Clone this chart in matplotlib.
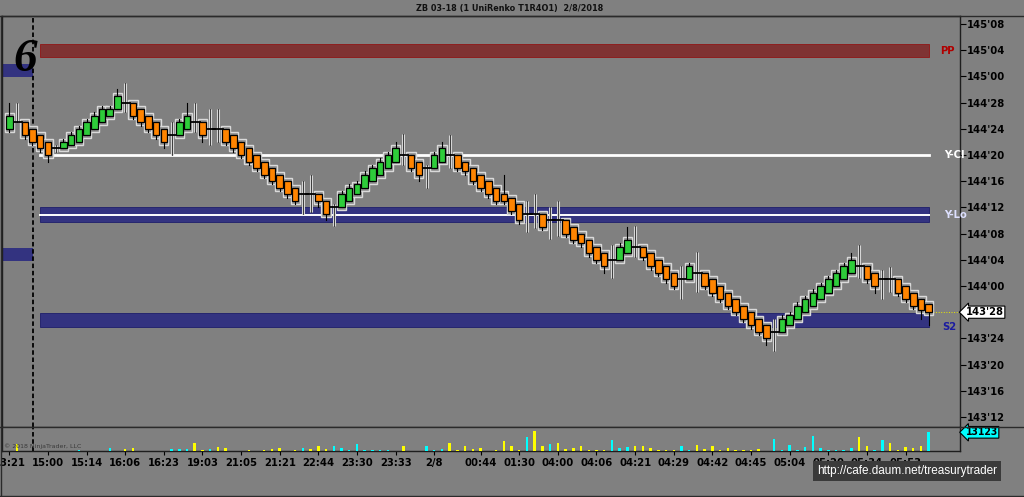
import matplotlib
matplotlib.use('Agg')
import matplotlib.pyplot as plt
import matplotlib.transforms as mtrans
from matplotlib.patches import Rectangle
from matplotlib.lines import Line2D
from matplotlib import font_manager

# ZB 03-18, UniRenko T1R4O1 -- prices are in 32nds (144'20 = 144*32 + 20)
opens = [4632, 4633, 4633, 4632, 4631, 4630, 4629, 4629, 4629.5, 4630,
         4631, 4632, 4633, 4634, 4635, 4636, 4636, 4635, 4634, 4633,
         4632, 4631, 4631, 4632, 4633, 4633, 4632, 4632, 4632, 4631,
         4630, 4629, 4628, 4627, 4626, 4625, 4624, 4623, 4622, 4622,
         4622, 4621, 4620, 4620, 4621, 4622, 4623, 4624, 4625, 4626,
         4627, 4628, 4628, 4627, 4626, 4626, 4627, 4628, 4628, 4627,
         4626, 4625, 4624, 4623, 4622, 4621.5, 4620.5, 4619, 4619, 4619,
         4618, 4618, 4618, 4617, 4616, 4615, 4614, 4613, 4612, 4612,
         4613, 4614, 4614, 4613, 4612, 4611, 4610, 4609, 4609, 4610,
         4610, 4609, 4608, 4607, 4606, 4605, 4604, 4603, 4602, 4601,
         4601, 4602, 4603, 4604, 4605, 4606, 4607, 4608, 4609, 4610,
         4611, 4611, 4610, 4609, 4609, 4609, 4608, 4607, 4606, 4605.3]
closes = [4634, 4633, 4631, 4630, 4629, 4628, 4629, 4630, 4631, 4632,
          4633, 4634, 4635, 4635, 4637, 4636, 4634, 4633, 4632, 4631,
          4630, 4631, 4633, 4634, 4633, 4631, 4632, 4632, 4630, 4629,
          4628, 4627, 4626, 4625, 4624, 4623, 4622, 4621, 4622, 4622,
          4621, 4619, 4620, 4622, 4623, 4623.5, 4625, 4626, 4627, 4628,
          4629, 4628, 4626, 4625, 4626, 4628, 4629, 4628, 4626, 4625.5,
          4624, 4623, 4622, 4621, 4621, 4619.5, 4618, 4619, 4619, 4617,
          4618, 4618, 4616, 4615, 4614.5, 4613, 4612, 4611, 4612, 4614,
          4615, 4614, 4612.5, 4611, 4610, 4609, 4608, 4609, 4611, 4610,
          4608, 4607, 4606, 4605, 4604, 4603, 4602, 4601, 4600, 4601,
          4603, 4603.5, 4605, 4606, 4607, 4608, 4609, 4610, 4611, 4612,
          4611, 4609, 4608, 4609, 4609, 4607, 4606, 4605, 4604.3, 4604]
highs = [4636, 4636, 4633, 4632, 4631, 4630, 4629.5, 4630.5, 4631.5, 4632.5,
         4633.5, 4634.5, 4635.5, 4635.5, 4638, 4639, 4636, 4635, 4634, 4633,
         4632, 4633, 4633.5, 4636, 4636, 4633, 4635, 4635, 4632, 4631,
         4630, 4629, 4628, 4627, 4626, 4625, 4624, 4623, 4624, 4625,
         4622, 4621, 4620.5, 4622.5, 4623.5, 4624, 4625.5, 4626.5, 4627.5, 4628.5,
         4630, 4631.2, 4628, 4627, 4626.4, 4628.5, 4630, 4631, 4628, 4627,
         4626, 4625, 4624, 4623, 4625, 4621.5, 4620.5, 4621, 4622, 4619,
         4620, 4621, 4618, 4617, 4616, 4615, 4614, 4613, 4614.2, 4614.5,
         4617, 4617.2, 4614, 4613, 4612, 4611, 4610, 4611, 4611.5, 4613.2,
         4610, 4609, 4608, 4607, 4606, 4605, 4604, 4603, 4602, 4603,
         4603.5, 4604, 4605.5, 4606.5, 4607.5, 4608.5, 4609.5, 4610.5, 4611.5, 4613,
         4614.2, 4611, 4610, 4610.4, 4610.9, 4609, 4608, 4607, 4606, 4605.3]
lows = [4631.5, 4633, 4630.5, 4629.5, 4628.5, 4627, 4628.5, 4629, 4629.5, 4630,
        4631, 4632, 4633, 4634, 4635, 4634.5, 4633.5, 4632.5, 4631.5, 4630.5,
        4629, 4628, 4631, 4632, 4631.5, 4630, 4629.5, 4630, 4629.5, 4628.5,
        4627.5, 4626.5, 4625.5, 4624.5, 4623.5, 4622.5, 4621.5, 4620.5, 4619, 4619.3,
        4620, 4618, 4617.2, 4620, 4621, 4622, 4623, 4624, 4625, 4626,
        4627, 4626.4, 4625.5, 4624, 4623, 4626, 4627, 4626, 4625.5, 4625,
        4623.5, 4622.5, 4621.5, 4620.5, 4620.5, 4619, 4617.5, 4616.3, 4616.8, 4616.5,
        4615.2, 4615.7, 4615.5, 4614.5, 4614, 4612.5, 4611.5, 4610, 4609.2, 4612,
        4613, 4612.5, 4612, 4610.5, 4609.5, 4608.5, 4607.5, 4606, 4609, 4607.1,
        4607.5, 4606.5, 4605.5, 4604.5, 4603.5, 4602.5, 4601.5, 4600.5, 4599, 4598.1,
        4601, 4602, 4603, 4604, 4605, 4606, 4607, 4608, 4609, 4610,
        4609.2, 4608.5, 4607, 4606, 4607.1, 4606.5, 4605.5, 4604.5, 4603, 4602]

volumes = [350, 4700, 300, 300, 300, 300, 300, 300, 300, 500,
           300, 300, 300, 2300, 300, 1200, 2300, 300, 300, 300,
           300, 1400, 1400, 1400, 5800, 900, 1200, 3000, 1900, 300,
           300, 900, 300, 900, 1400, 2100, 300, 900, 1900, 1600,
           3700, 1600, 3300, 2300, 900, 4900, 900, 900, 900, 900,
           300, 3500, 300, 300, 3300, 900, 1600, 5800, 900, 3500,
           1400, 2100, 300, 900, 7000, 3500, 900, 9600, 14000, 3300,
           4900, 5800, 1400, 2300, 3300, 900, 900, 900, 7700, 1900,
           2800, 3500, 3500, 1900, 900, 900, 900, 3300, 900, 4200,
           1400, 3500, 900, 1900, 900, 900, 900, 1400, 300, 8200,
           900, 4200, 1000, 2800, 10500, 1900, 900, 900, 900, 2300,
           9600, 3500, 900, 7700, 5600, 900, 2800, 1900, 3500, 13123]
vol_sides = ['y', 'y', 'y', 'y', 'y', 'y', 'c', 'c', 'c', 'c',
             'c', 'c', 'c', 'c', 'c', 'y', 'y', 'y', 'y', 'y',
             'y', 'c', 'c', 'c', 'y', 'y', 'c', 'y', 'y', 'y',
             'y', 'y', 'y', 'y', 'y', 'y', 'y', 'y', 'c', 'y',
             'y', 'y', 'c', 'c', 'c', 'c', 'c', 'c', 'c', 'c',
             'c', 'y', 'y', 'y', 'c', 'c', 'c', 'y', 'y', 'y',
             'y', 'y', 'y', 'y', 'y', 'y', 'y', 'c', 'y', 'y',
             'c', 'y', 'y', 'y', 'y', 'y', 'y', 'y', 'c', 'c',
             'c', 'y', 'y', 'y', 'y', 'y', 'y', 'c', 'c', 'y',
             'y', 'y', 'y', 'y', 'y', 'y', 'y', 'y', 'y', 'c',
             'c', 'c', 'c', 'c', 'c', 'c', 'c', 'c', 'c', 'c',
             'y', 'y', 'c', 'c', 'y', 'y', 'y', 'y', 'y', 'c']

time_ticks = [0, 5, 10, 15, 20, 25, 30, 35, 40, 45, 50, 55,
              61, 66, 71, 76, 81, 86, 91, 96, 101, 106, 111, 116]
time_labels = ['13:21', '15:00', '15:14', '16:06', '16:23', '19:03', '21:05', '21:21',
               '22:44', '23:30', '23:33', '2/8', '00:44', '01:30', '04:00', '04:06',
               '04:21', '04:29', '04:42', '04:45', '05:04', '05:20', '05:34', '05:53']

# level bands (low, high) in 32nds
pp_band = (4642.9, 4644.9)
ycl_level = 4628
ylo_band = (4617.7, 4620.0)
ylo_level = 4618.9
s2_band = (4601.8, 4603.8)
left_marks = [(4639.9, 4641.9), (4611.8, 4613.8)]
last_price = 4604
last_volume = 13123

BG = '#808080'
NAVY = '#333380'


def fmt32(v):
    v = int(round(v))
    return f"{v // 32}'{v % 32:02d}"


names = {f.name for f in font_manager.fontManager.ttflist}
if 'Liberation Sans Narrow' in names:
    NARROW = dict(family='Liberation Sans Narrow', weight='bold')
else:
    NARROW = dict(family='DejaVu Sans', weight='bold', stretch='condensed')

fig = plt.figure(figsize=(10.24, 4.97), dpi=100)
fig.patch.set_facecolor(BG)

ax = fig.add_axes([2 / 1024, 1 - 427 / 497, 958 / 1024, 411 / 497])
vax = fig.add_axes([2 / 1024, 1 - 451 / 497, 958 / 1024, 24 / 497])
x_lim = (-0.945, 123.05)

for a in (ax, vax):
    a.set_facecolor(BG)
    a.set_xlim(*x_lim)
    for s in a.spines.values():
        s.set_color('#1e1e1e')
        s.set_linewidth(1)

ax.set_ylim(4586.47, 4649.22)
ax.set_xticks([])
ax.yaxis.tick_right()
pticks = list(range(4588, 4649, 4))
ax.set_yticks(pticks)
ax.set_yticklabels([fmt32(p) if p != last_price else '' for p in pticks], fontsize=8, **NARROW)
ax.tick_params(axis='y', length=4, width=0.8, color='black', pad=1)

# level bands
band_x0, band_x1 = 3.97, 119.0
ax.add_patch(Rectangle((band_x0, pp_band[0]), band_x1 - band_x0, pp_band[1] - pp_band[0],
                       fc='#7f3333', ec='#8e1f1f', lw=0.7, zorder=1))
ax.add_patch(Rectangle((band_x0, ylo_band[0]), band_x1 - band_x0, ylo_band[1] - ylo_band[0],
                       fc=NAVY, ec='#26266e', lw=0.7, zorder=1))
ax.add_patch(Rectangle((band_x0, s2_band[0]), band_x1 - band_x0, s2_band[1] - s2_band[0],
                       fc=NAVY, ec='#26266e', lw=0.7, zorder=1))
ax.plot([band_x0, band_x1], [ycl_level, ycl_level], color='white', lw=2, zorder=2)
ax.plot([band_x0, band_x1], [ylo_level, ylo_level], color='white', lw=1.4, zorder=2)
for lo, hi in left_marks:
    ax.add_patch(Rectangle((x_lim[0], lo), 3.07 - x_lim[0], hi - lo, fc=NAVY, ec='none', zorder=1))

ax.axvline(3.07, color='black', lw=1.3, ls=(0, (2.5, 1.5)), zorder=2)
vax.axvline(3.07, color='black', lw=1.3, ls=(0, (2.5, 1.5)), zorder=2)

ax.text(band_x1 + 1.5, sum(pp_band) / 2, 'PP', color='#b00000', fontsize=8, va='center', **NARROW)
ax.text(band_x1 + 2.0, ycl_level, 'Y-Cl', color='white', fontsize=8, va='center', **NARROW)
ax.text(band_x1 + 2.0, ylo_level, 'Y-Lo', color='#dde0ff', fontsize=8, va='center', **NARROW)
ax.text(band_x1 + 1.7, sum(s2_band) / 2 - 1, 'S2', color='#1c1ca0', fontsize=8, va='center', **NARROW)

# renko bricks
for i, (o, c, h, l) in enumerate(zip(opens, closes, highs, lows)):
    top, bot = max(o, c), min(o, c)
    if o == c:
        ax.plot([i, i], [l, h], color='#d6d6d6', lw=2.2, zorder=3, solid_capstyle='butt')
        ax.plot([i, i], [l, h], color='#222222', lw=0.6, zorder=3.1)
        ax.plot([i - 0.62, i + 0.62], [o, o], color='black', lw=1.3, zorder=4)
    else:
        ax.add_patch(Rectangle((i - 0.6, bot - 0.45), 1.2, top - bot + 0.9,
                               fc='#8d8d8d', ec='#dadada', lw=1, zorder=3))
        ax.plot([i, i], [l, h], color='black', lw=0.8, zorder=3.5)
        col = '#2ecc3a' if c > o else '#ff8400'
        ax.add_patch(Rectangle((i - 0.42, bot), 0.84, top - bot, fc=col, ec='black', lw=0.9, zorder=5))

n = len(closes)
ax.plot([n - 0.5, x_lim[1]], [last_price, last_price], color='#e8e800', lw=0.7, ls=':', zorder=2)

ytrans = mtrans.blended_transform_factory(ax.transAxes, ax.transData)
ax.text(1.006, last_price, fmt32(last_price), transform=ytrans, fontsize=8, va='center', ha='left',
        clip_on=False, zorder=10, **NARROW,
        bbox=dict(boxstyle='larrow,pad=0.1', fc='white', ec='black', lw=0.8))

# big "6"
fig.text(25 / 1024, 1 - 60 / 497, '6', fontsize=34, family='Liberation Serif', style='italic',
         weight='bold', color='black', ha='center', va='center')

# volume panel
vax.set_ylim(0, 16850)
vax.set_yticks([])
vcolors = ['#ffff00' if s == 'y' else '#00ffff' for s in vol_sides]
vax.bar(range(n), volumes, width=0.32, color=vcolors, zorder=3)
vax.set_xticks(time_ticks)
vax.set_xticklabels(time_labels, fontsize=8, **NARROW)
vax.tick_params(axis='x', length=3, width=0.8, color='black', pad=2)
vax.spines['top'].set_visible(False)
vtrans = mtrans.blended_transform_factory(vax.transAxes, vax.transData)
vax.text(1.006, last_volume, str(last_volume), transform=vtrans, fontsize=7.5, va='center', ha='left',
         clip_on=False, zorder=10, **NARROW,
         bbox=dict(boxstyle='larrow,pad=0.08', fc='#00ffff', ec='black', lw=0.8))
vax.text(0.002, 0.1, '\u00a9 2018 NinjaTrader, LLC', transform=vax.transAxes, fontsize=4.5,
         color='#3a3a3a', va='bottom', ha='left')

# frame lines and title
for y in (16, 427, 495.5):
    fig.add_artist(Line2D([0, 1], [1 - y / 497, 1 - y / 497], color='#2a2a2a', lw=1))
fig.add_artist(Line2D([0.5 / 1024, 0.5 / 1024], [1 - 495.5 / 497, 1 - 16 / 497], color='#2a2a2a', lw=1))
fig.text(510 / 1024, 1 - 8 / 497, 'ZB 03-18 (1 UniRenko T1R4O1)  2/8/2018', fontsize=6.5,
         ha='center', va='center', color='#111111', **NARROW)

fig.text(907 / 1024, 1 - 471 / 497, 'http://cafe.daum.net/treasurytrader', fontsize=8.5,
         family='Liberation Sans', color='white', ha='center', va='center',
         bbox=dict(boxstyle='square,pad=0.3', fc='#3a3a3a', ec='none'))

fig.savefig('out.png', dpi=100, facecolor=fig.get_facecolor())
